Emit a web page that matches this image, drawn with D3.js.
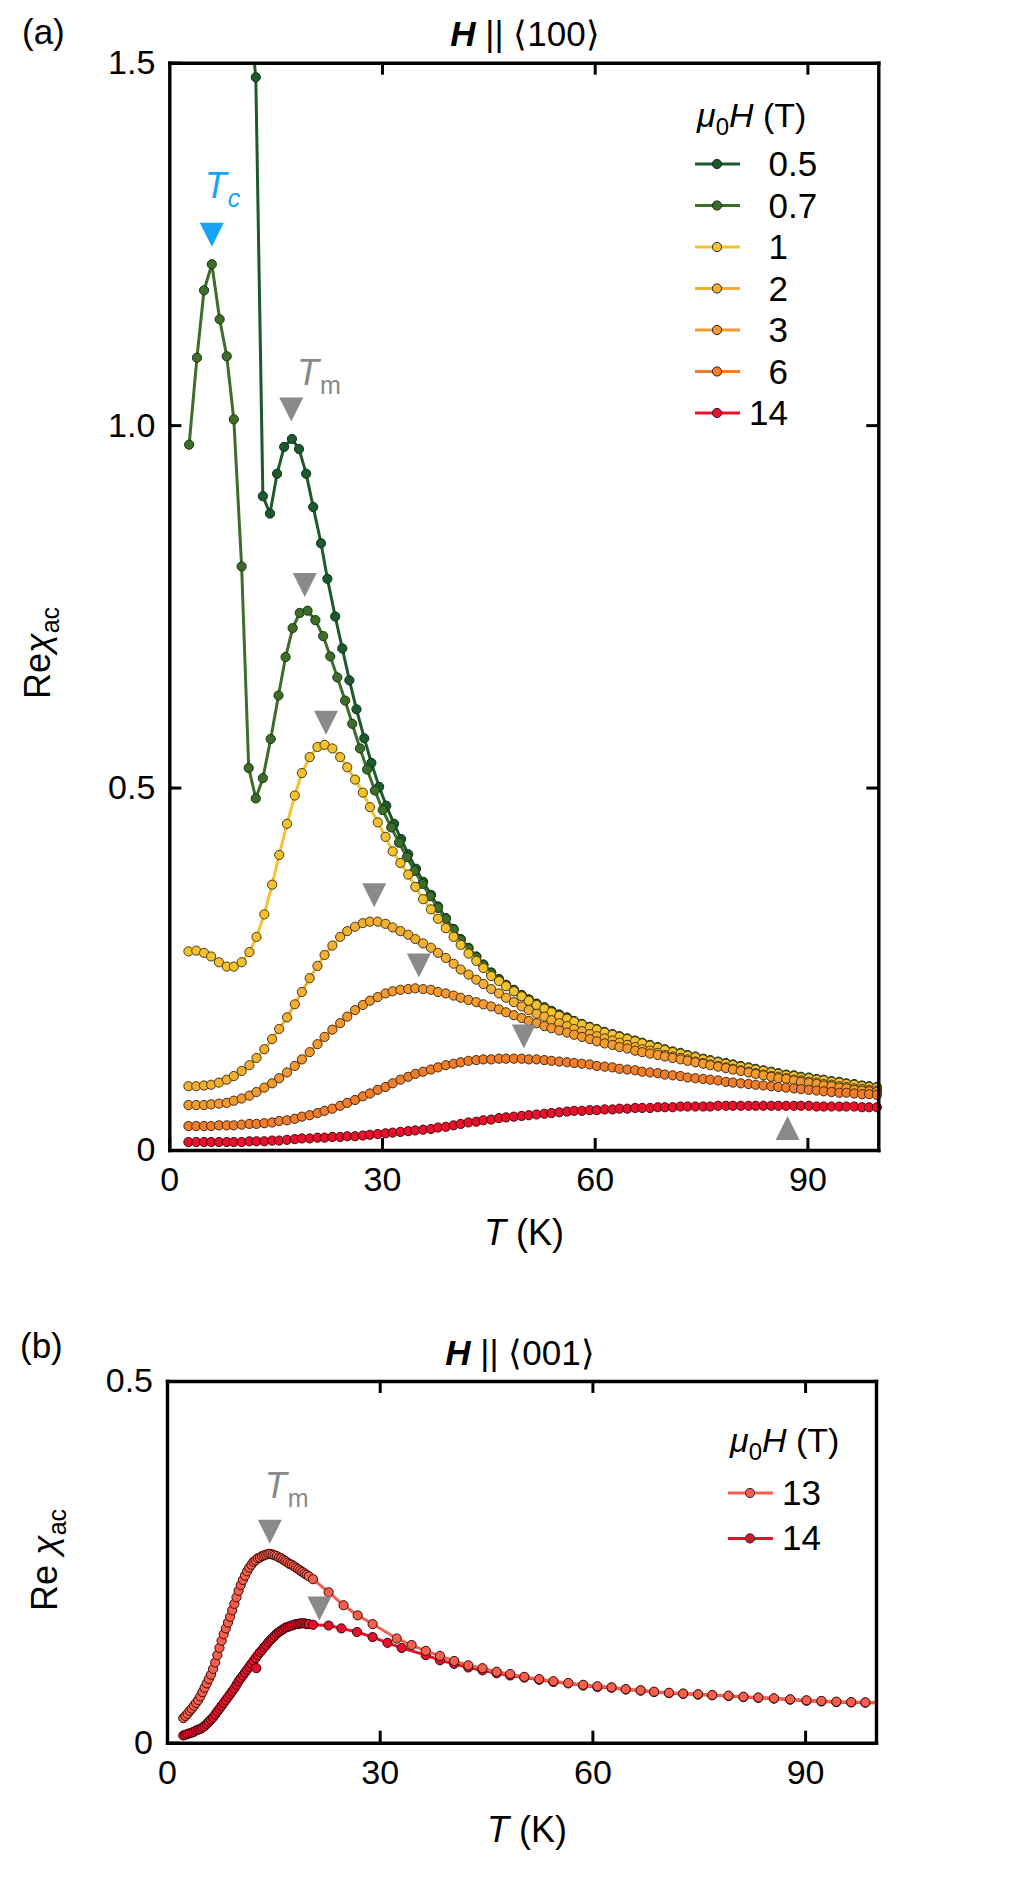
<!DOCTYPE html>
<html>
<head>
<meta charset="utf-8">
<script src="https://cdn.jsdelivr.net/npm/d3@7"></script>
<style>
  body { margin: 0; background: #fff; }
  svg text { font-family: "Liberation Sans", Arial, sans-serif; }
</style>
</head>
<body>
<svg id="chart" width="1021" height="1890"></svg>
<script>
// ---------- panel (a): H || <100> ----------
const fieldsA = ["0.5", "0.7", "1", "2", "3", "6", "14"]
const colorsA = ["#1c5a2d", "#3c6d29", "#f4c22d", "#f1b032", "#f29a2e", "#ef7e2b", "#e8102a"]

const t05 = [11.15, 12.2, 13.2, 14.2, 15.2, 16.2, 17.3, 18.3, 19.3, 20.3,
  21.4, 22.3, 23.4, 24.4, 25.4, 26.4, 27.5, 28.5, 29.6, 30.6,
  31.7, 32.7, 33.7, 34.8, 35.8, 36.9, 37.9, 39.0, 40.1, 41.1,
  42.2, 43.3, 44.3, 45.4, 46.5, 47.5, 48.6, 49.7, 50.7, 51.8,
  52.9, 53.9, 55.0, 56.1, 57.1, 58.2, 59.3, 60.3, 61.4, 62.5,
  63.5, 64.6, 65.7, 66.7, 67.8, 68.9, 69.9, 71.0, 72.1, 73.1,
  74.2, 75.3, 76.3, 77.4, 78.5, 79.5, 80.6, 81.7, 82.7, 83.8,
  84.9, 85.9, 87.0, 88.1, 89.1, 90.2, 91.3, 92.3, 93.4, 94.5,
  95.5, 96.6, 97.7, 98.7, 99.8]
const chi05 = [1.58, 1.480, 0.902, 0.878, 0.933, 0.970, 0.981, 0.967, 0.933, 0.887,
  0.837, 0.788, 0.736, 0.692, 0.648, 0.608, 0.568, 0.534, 0.501, 0.475,
  0.450, 0.429, 0.408, 0.388, 0.370, 0.352, 0.336, 0.320, 0.305, 0.291,
  0.279, 0.267, 0.256, 0.245, 0.236, 0.228, 0.221, 0.214, 0.208, 0.202,
  0.197, 0.192, 0.187, 0.183, 0.178, 0.174, 0.170, 0.167, 0.163, 0.160,
  0.157, 0.154, 0.151, 0.148, 0.145, 0.142, 0.139, 0.136, 0.134, 0.131,
  0.129, 0.126, 0.124, 0.122, 0.120, 0.118, 0.116, 0.114, 0.112, 0.110,
  0.108, 0.106, 0.104, 0.103, 0.101, 0.100, 0.098, 0.097, 0.095, 0.094,
  0.092, 0.091, 0.089, 0.088, 0.087]

const t07 = [2.8, 3.9, 4.9, 6.0, 7.1, 8.1, 9.1, 10.2, 11.2, 12.2,
  13.2, 14.3, 15.4, 16.4, 17.4, 18.4, 19.5, 20.6, 21.7, 22.7,
  23.7, 24.8, 25.8, 26.9, 27.9, 29.0, 30.1, 31.3, 32.4, 33.5,
  34.6, 35.7, 36.8, 37.9, 39.0, 40.1, 41.1, 42.2, 43.3, 44.3,
  45.4, 46.5, 47.5, 48.6, 49.7, 50.7, 51.8, 52.9, 53.9, 55.0,
  56.1, 57.1, 58.2, 59.3, 60.3, 61.4, 62.5, 63.5, 64.6, 65.7,
  66.7, 67.8, 68.9, 69.9, 71.0, 72.1, 73.1, 74.2, 75.3, 76.3,
  77.4, 78.5, 79.5, 80.6, 81.7, 82.7, 83.8, 84.9, 85.9, 87.0,
  88.1, 89.1, 90.2, 91.3, 92.3, 93.4, 94.5, 95.5, 96.6, 97.7,
  98.7, 99.8]
const chi07 = [0.973, 1.093, 1.186, 1.222, 1.146, 1.095, 1.008, 0.805, 0.527, 0.485,
  0.513, 0.567, 0.627, 0.680, 0.720, 0.741, 0.744, 0.731, 0.709, 0.681,
  0.652, 0.620, 0.588, 0.554, 0.525, 0.496, 0.469, 0.445, 0.424, 0.404,
  0.385, 0.367, 0.350, 0.334, 0.319, 0.304, 0.290, 0.278, 0.266, 0.255,
  0.244, 0.235, 0.227, 0.220, 0.213, 0.207, 0.201, 0.196, 0.191, 0.186,
  0.182, 0.177, 0.173, 0.169, 0.166, 0.162, 0.159, 0.156, 0.153, 0.150,
  0.147, 0.144, 0.141, 0.138, 0.135, 0.133, 0.130, 0.128, 0.125, 0.123,
  0.121, 0.119, 0.117, 0.115, 0.113, 0.111, 0.109, 0.107, 0.105, 0.103,
  0.102, 0.100, 0.099, 0.097, 0.096, 0.094, 0.093, 0.091, 0.090, 0.088,
  0.087, 0.086]

// shared temperature grid of the 1, 2, 3, 6 and 14 T sweeps
const tA = [2.7, 3.8, 4.9, 5.9, 7.0, 8.1, 9.1, 10.2, 11.3, 12.3,
  13.4, 14.5, 15.5, 16.6, 17.7, 18.7, 19.8, 20.9, 21.9, 23.0,
  24.1, 25.1, 26.2, 27.3, 28.3, 29.4, 30.5, 31.5, 32.6, 33.7,
  34.7, 35.8, 36.9, 37.9, 39.0, 40.1, 41.1, 42.2, 43.3, 44.3,
  45.4, 46.5, 47.5, 48.6, 49.7, 50.7, 51.8, 52.9, 53.9, 55.0,
  56.1, 57.1, 58.2, 59.3, 60.3, 61.4, 62.5, 63.5, 64.6, 65.7,
  66.7, 67.8, 68.9, 69.9, 71.0, 72.1, 73.1, 74.2, 75.3, 76.3,
  77.4, 78.5, 79.5, 80.6, 81.7, 82.7, 83.8, 84.9, 85.9, 87.0,
  88.1, 89.1, 90.2, 91.3, 92.3, 93.4, 94.5, 95.5, 96.6, 97.7,
  98.7, 99.8]
const chi1 = [.274, .275, .272, .267, .259, .253, .253, .259, .273, .294,
  .325, .366, .407, .450, .489, .520, .542, .556, .559, .554,
  .542, .528, .511, .493, .473, .452, .432, .412, .396, .380,
  .363, .346, .332, .319, .306, .294, .283, .271, .261, .251,
  .240, .233, .226, .219, .212, .206, .200, .195, .190, .185,
  .181, .177, .173, .169, .166, .162, .159, .156, .153, .150,
  .147, .144, .141, .138, .135, .133, .130, .128, .125, .123,
  .121, .119, .117, .115, .113, .111, .109, .107, .105, .103,
  .102, .100, .099, .097, .096, .094, .093, .091, .090, .088,
  .087, .086]
const chi2 = [.088, .088, .089, .090, .093, .097, .102, .109, .117, .127,
  .139, .153, .167, .183, .201, .218, .237, .254, .269, .282,
  .294, .302, .308, .313, .315, .315, .312, .307, .302, .297,
  .291, .285, .279, .272, .265, .257, .249, .242, .235, .229,
  .222, .216, .210, .204, .198, .193, .188, .184, .179, .175,
  .171, .167, .164, .160, .157, .154, .151, .148, .145, .142,
  .139, .137, .134, .131, .129, .127, .125, .122, .120, .118,
  .116, .114, .112, .110, .108, .106, .104, .102, .101, .099,
  .097, .096, .094, .093, .091, .090, .088, .087, .085, .084,
  .083, .082]
const chi3 = [.062, .062, .062, .063, .064, .065, .068, .071, .075, .080,
  .086, .092, .099, .107, .116, .125, .135, .146, .156, .166,
  .175, .184, .193, .200, .206, .211, .216, .219, .221, .222,
  .223, .222, .221, .218, .216, .213, .210, .207, .204, .201,
  .198, .194, .190, .186, .182, .178, .175, .171, .168, .165,
  .162, .159, .156, .153, .150, .147, .145, .142, .140, .137,
  .135, .133, .131, .129, .127, .125, .123, .121, .119, .117,
  .115, .113, .111, .109, .107, .105, .103, .101, .099, .098,
  .096, .094, .093, .091, .089, .088, .086, .085, .083, .082,
  .081, .080]
const chi6 = [.033, .033, .033, .033, .034, .034, .034, .035, .036, .036,
  .037, .038, .040, .041, .043, .046, .048, .051, .054, .057,
  .061, .065, .069, .074, .078, .083, .087, .092, .097, .101,
  .105, .108, .111, .114, .117, .119, .121, .123, .124, .125,
  .125, .126, .126, .126, .126, .125, .125, .124, .123, .122,
  .121, .120, .119, .118, .116, .115, .114, .112, .111, .110,
  .108, .107, .106, .104, .103, .102, .100, .099, .098, .097,
  .096, .094, .093, .092, .091, .090, .089, .088, .087, .086,
  .085, .084, .083, .082, .081, .080, .079, .079, .078, .077,
  .077, .076]
const chi14 = [.011, .011, .011, .011, .011, .011, .011, .011, .012, .012,
  .012, .013, .013, .014, .015, .016, .016, .017, .017, .018,
  .018, .019, .019, .020, .021, .022, .023, .024, .025, .026,
  .027, .028, .029, .031, .032, .034, .036, .038, .039, .041,
  .042, .044, .045, .046, .047, .048, .049, .050, .051, .052,
  .053, .054, .054, .055, .055, .056, .056, .057, .057, .058,
  .058, .058, .059, .059, .059, .060, .060, .060, .060, .060,
  .061, .061, .061, .061, .061, .061, .061, .061, .061, .061,
  .061, .061, .061, .060, .060, .060, .060, .060, .060, .059,
  .059, .059]

// T_m arrows (apex positions), T_c arrow and the upward 14 T arrow
const tmTA = [17.2, 19.1, 22.1, 28.9, 35.2, 50.0]
const tmVA = [1.005, 0.763, 0.573, 0.335, 0.238, 0.140]
const tcT = 6.0, tcV = 1.246
const upT = 87.2, upV = 0.047

// ---------- panel (b): H || <001> ----------
const fieldsB = ["13", "14"]
const colorsB = ["#f4604d", "#e5102b"]

const tBDense = [2.3, 2.6, 2.9, 3.2, 3.5, 3.8, 4.1, 4.4, 4.7, 5.0,
  5.3, 5.6, 5.9, 6.2, 6.5, 6.8, 7.1, 7.4, 7.7, 8.0,
  8.3, 8.6, 8.9, 9.2, 9.5, 9.8, 10.1, 10.4, 10.7, 11.0,
  11.3, 11.6, 11.9, 12.2, 12.5, 12.8, 13.1, 13.4, 13.7, 14.0,
  14.3, 14.6, 14.9, 15.2, 15.5, 15.8, 16.1, 16.4, 16.7, 17.0,
  17.3, 17.6, 17.9, 18.2, 18.5, 18.8, 19.1, 19.4, 19.7, 20.0]
const chi13Dense = [.034, .037, .040, .044, .047, .051, .055, .059, .064, .070,
  .076, .082, .088, .094, .102, .111, .121, .131, .141, .150,
  .158, .166, .174, .183, .192, .201, .210, .218, .225, .231,
  .237, .242, .246, .250, .252, .255, .256, .258, .259, .260,
  .261, .261, .260, .259, .258, .256, .255, .253, .251, .249,
  .247, .246, .244, .242, .240, .238, .236, .234, .232, .230]
const chi14Dense = [.010, .011, .012, .013, .014, .015, .017, .018, .019, .021,
  .023, .026, .029, .032, .035, .039, .043, .047, .051, .055,
  .059, .063, .067, .071, .075, .080, .085, .089, .093, .097,
  .101, .105, .109, .113, .117, .121, .125, .128, .132, .135,
  .139, .142, .145, .148, .151, .153, .155, .157, .159, .160,
  .161, .162, .163, .164, .164, .165, .165, .165, .164, .164]

const t13Sparse = [20.6, 22.8, 24.9, 26.9, 29.0, 32.4, 34.5, 36.5, 38.5, 40.5,
  42.5, 44.5, 46.5, 48.4, 50.4, 52.5, 54.5, 56.6, 58.7, 60.7,
  62.7, 64.7, 66.8, 68.7, 70.8, 72.8, 74.9, 76.9, 79.2, 81.3,
  83.4, 85.6, 87.9, 90.2, 92.3, 94.4, 96.5, 98.5, 100.6]
const chi13Sparse = [.226, .208, .190, .176, .164, .144, .135, .127, .120, .113,
  .107, .103, .098, .095, .091, .088, .085, .0825, .080, .078,
  .0766, .074, .0724, .0705, .069, .068, .067, .066, .065, .0636,
  .0625, .0614, .060, .0586, .0577, .0567, .0562, .0558, .0555]
const t14Sparse = [20.6, 22.8, 24.6, 26.8, 29.0, 31.1, 33.1, 36.5, 38.5, 40.5,
  42.5, 44.5, 46.5, 48.4, 50.4, 52.5, 54.5, 56.6, 58.7, 60.7,
  62.7, 64.7, 66.8, 68.7, 70.8, 72.8, 74.9, 76.9, 79.2, 81.3,
  83.4, 85.6, 87.9, 90.2, 92.3, 94.4, 96.5, 98.5, 100.6]
const chi14Sparse = [.163, .162, .158, .153, .146, .138, .131, .121, .114, .109,
  .104, .100, .096, .093, .090, .087, .084, .082, .079, .077,
  .076, .0735, .072, .070, .0685, .0675, .0665, .0655, .0645, .063,
  .062, .061, .0595, .058, .057, .0562, .0557, .0553, .055]
const t14Extra = [12.6], chi14Extra = [0.103]

const tmTB = [14.5, 21.5]
const tmVB = [0.275, 0.169]

const xTicks = [0, 30, 60, 90]

// ---------- drawing ----------
const svg = d3.select("#chart")
const TICK_FONT = 34, LABEL_FONT = 36, GRAY = "#8a8a8a"
const triDown = "M0,0L-12,-24L12,-24Z"
const triUp = "M0,0L-12,24L12,24Z"

function axes(g, x, y, yTicks, yInner, fmt) {
  const w = x.range()[1], h = y.range()[0]
  const style = a => a.attr("font-size", TICK_FONT).attr("font-family", '"Liberation Sans", Arial, sans-serif')
  g.append("g").attr("transform", `translate(0,${h})`)
    .call(d3.axisBottom(x).tickValues(xTicks).tickSizeInner(-12).tickSizeOuter(0).tickPadding(17))
    .call(style)
  g.append("g")
    .call(d3.axisTop(x).tickValues(xTicks.slice(1)).tickSizeInner(-12).tickSizeOuter(0).tickFormat(""))
  g.append("g")
    .call(d3.axisLeft(y).tickValues(yTicks).tickSizeInner(-12).tickSizeOuter(0).tickPadding(14).tickFormat(fmt))
    .call(style)
  g.append("g").attr("transform", `translate(${w},0)`)
    .call(d3.axisRight(y).tickValues(yInner).tickSizeInner(-12).tickSizeOuter(0).tickFormat(""))
  g.selectAll(".domain").attr("stroke-width", 3.4).attr("stroke-linecap", "square")
  g.selectAll(".tick line").attr("stroke-width", 3)
  g.selectAll(".tick text").attr("fill", "#000")
}

function series(g, x, y, ts, vs, color, edge, withLine = true) {
  const pts = d3.zip(ts, vs)
  if (withLine) {
    g.append("path").datum(pts)
      .attr("fill", "none").attr("stroke", color).attr("stroke-width", 3)
      .attr("d", d3.line().x(d => x(d[0])).y(d => y(d[1])))
  }
  g.append("g").selectAll("circle").data(pts).join("circle")
    .attr("cx", d => x(d[0])).attr("cy", d => y(d[1])).attr("r", 4.6)
    .attr("fill", color).attr("stroke", edge).attr("stroke-width", 1)
}

function subLabel(g, xp, yp, color, main, sub, subItalic) {
  const t = g.append("text").attr("x", xp).attr("y", yp).attr("fill", color).attr("font-size", LABEL_FONT)
  t.append("tspan").attr("font-style", "italic").text(main)
  t.append("tspan").attr("font-size", 25).attr("dy", 9).attr("dx", 1)
    .attr("font-style", subItalic ? "italic" : "normal").text(sub)
}

// legend rows: line, marker and a value whose integer part is right-aligned at `split`
function legend(g, x0, y0, first, step, fields, colors, split) {
  const t = g.append("text").attr("x", x0).attr("y", y0).attr("font-size", 34)
  t.append("tspan").attr("font-style", "italic").text("\u03bc")
  t.append("tspan").attr("font-size", 24).attr("dy", 8).text("0")
  t.append("tspan").attr("font-style", "italic").attr("dy", -8).text("H")
  t.append("tspan").text(" (T)")
  const rows = g.append("g").selectAll("g").data(fields).join("g")
    .attr("transform", (d, i) => `translate(${x0},${y0 + first + i * step})`)
  rows.append("line").attr("x1", -2).attr("x2", 43).attr("stroke", (d, i) => colors[i]).attr("stroke-width", 3)
  rows.append("circle").attr("cx", 20).attr("r", 4.6).attr("fill", (d, i) => colors[i])
    .attr("stroke", "#222").attr("stroke-width", 1)
  rows.append("text").attr("x", split).attr("y", 12).attr("font-size", 35).attr("text-anchor", "end")
    .text(d => d.split(".")[0])
  rows.filter(d => d.includes(".")).append("text").attr("x", split).attr("y", 12).attr("font-size", 35)
    .text(d => "." + d.split(".")[1])
}

function title(g, cx, y, dir) {
  const t = g.append("text").attr("x", cx).attr("y", y).attr("text-anchor", "middle").attr("font-size", 35)
  t.append("tspan").attr("font-weight", "bold").attr("font-style", "italic").text("H")
  t.append("tspan").text(" || \u27e8" + dir + "\u27e9")
}

function xLabel(g, cx, y) {
  const t = g.append("text").attr("x", cx).attr("y", y).attr("text-anchor", "middle").attr("font-size", LABEL_FONT)
  t.append("tspan").attr("font-style", "italic").text("T")
  t.append("tspan").text(" (K)")
}

function yLabel(g, xb, cy, gap) {
  const t = g.append("text").attr("transform", `translate(${xb},${cy}) rotate(-90)`)
    .attr("text-anchor", "middle").attr("font-size", LABEL_FONT)
  t.append("tspan").text("Re" + gap)
  t.append("tspan").attr("font-style", "italic").text("\u03c7")
  t.append("tspan").attr("font-size", 25).attr("dy", 9).text("ac")
}

// panel (a)
const wA = 709, hA = 1087.3
const gA = svg.append("g").attr("transform", "translate(169.3,62.7)")
const xA = d3.scaleLinear().domain([0, 100]).range([0, wA])
const yA = d3.scaleLinear().domain([0, 1.5]).range([hA, 0])

svg.append("defs").append("clipPath").attr("id", "clipA")
  .append("rect").attr("x", -10).attr("y", 0).attr("width", wA + 20).attr("height", hA + 10)
const dataA = gA.append("g").attr("clip-path", "url(#clipA)")
const edges = ["#10301a", "#1c3612", "#4a3a10", "#4a3410", "#4a2a0c", "#4a220a", "#4a0610"]
const seriesA = [[t05, chi05], [t07, chi07], [tA, chi1], [tA, chi2], [tA, chi3], [tA, chi6], [tA, chi14]]
seriesA.forEach(([ts, vs], i) => series(dataA, xA, yA, ts, vs, colorsA[i], edges[i]))

gA.append("g").selectAll("path").data(d3.zip(tmTA, tmVA)).join("path")
  .attr("transform", d => `translate(${xA(d[0])},${yA(d[1])})`).attr("d", triDown).attr("fill", GRAY)
gA.append("path").attr("transform", `translate(${xA(tcT)},${yA(tcV)})`).attr("d", triDown).attr("fill", "#18a4f6")
gA.append("path").attr("transform", `translate(${xA(upT)},${yA(upV)})`).attr("d", triUp).attr("fill", GRAY)
subLabel(gA, xA(5.0), yA(1.313), "#18a4f6", "T", "c", true)
subLabel(gA, xA(18.0), yA(1.055), GRAY, "T", "m", false)

axes(gA, xA, yA, [0, 0.5, 1.0, 1.5], [0.5, 1.0], d => d === 0 ? "0" : d3.format(".1f")(d))
legend(svg, 697, 127, 37, 41.5, fieldsA, colorsA, 91)
svg.append("text").attr("x", 22).attr("y", 44).attr("font-size", 35).text("(a)")
title(svg, 525, 46, "100")
xLabel(svg, 524, 1245)
yLabel(svg, 50, 653, "")

// panel (b)
const wB = 709, hB = 361.7
const gB = svg.append("g").attr("transform", "translate(167,1381)")
const xB = d3.scaleLinear().domain([0, 100]).range([0, wB])
const yB = d3.scaleLinear().domain([0, 0.5]).range([hB, 0])

svg.select("defs").append("clipPath").attr("id", "clipB")
  .append("rect").attr("x", -10).attr("y", 0).attr("width", wB + 10).attr("height", hB + 10)
const dataB = gB.append("g").attr("clip-path", "url(#clipB)")
series(dataB, xB, yB, tBDense, chi14Dense, colorsB[1], "#3a0208")
series(dataB, xB, yB, t14Sparse, chi14Sparse, colorsB[1], "#3a0208")
series(dataB, xB, yB, t14Extra, chi14Extra, colorsB[1], "#3a0208", false)
series(dataB, xB, yB, tBDense, chi13Dense, colorsB[0], "#3a0a06")
series(dataB, xB, yB, t13Sparse, chi13Sparse, colorsB[0], "#3a0a06")

gB.append("g").selectAll("path").data(d3.zip(tmTB, tmVB)).join("path")
  .attr("transform", d => `translate(${xB(d[0])},${yB(d[1])})`).attr("d", triDown).attr("fill", GRAY)
subLabel(gB, xB(13.8), yB(0.338), GRAY, "T", "m", false)

axes(gB, xB, yB, [0, 0.5], [], d => d === 0 ? "0" : d3.format(".1f")(d))
legend(svg, 730, 1452, 41, 45.4, fieldsB, colorsB, 91)
svg.append("text").attr("x", 20).attr("y", 1358).attr("font-size", 35).text("(b)")
title(svg, 520, 1365, "001")
xLabel(svg, 527, 1842)
yLabel(svg, 57, 1560, " ")
</script>
</body>
</html>
